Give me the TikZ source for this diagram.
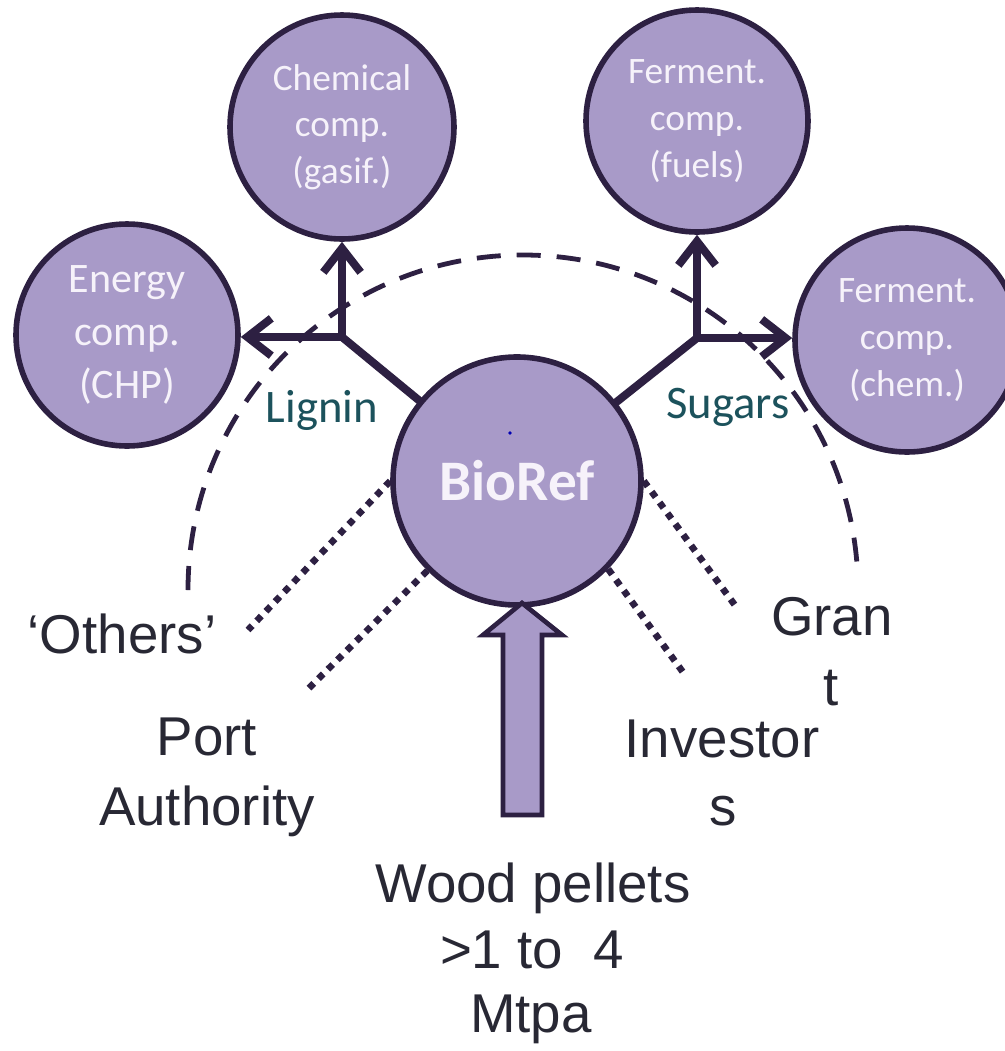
\documentclass[tikz,border=0pt]{standalone}
\usepackage{fontspec}
\setmainfont{Liberation Sans}
\newfontfamily\calfont{Carlito}
\usetikzlibrary{arrows.meta}
\definecolor{circfill}{RGB}{168,154,200}
\definecolor{circline}{RGB}{45,32,66}
\definecolor{txtdark}{RGB}{40,40,52}
\definecolor{txtlight}{RGB}{246,242,250}
\definecolor{lbltxt}{RGB}{28,82,92}
\begin{document}
\begin{tikzpicture}[x=0.75pt,y=-0.75pt,
  comp/.style={circle, draw=circline, fill=circfill, line width=4.2pt, inner sep=0pt, text=txtlight, align=center},
  flow/.style={draw=circline, line width=6pt, line cap=round, -{Straight Barb[length=18pt,width=28pt]}},
  branch/.style={draw=circline, line width=6pt, line cap=round},
  dotline/.style={draw=circline, line width=5pt, dash pattern=on 5pt off 5pt},
  bound/.style={draw=circline, line width=3.6pt, dash pattern=on 18pt off 12pt},
  lbl/.style={text=txtdark, font=\fontsize{41}{49}\selectfont, anchor=base, inner sep=0pt},
  stream/.style={text=lbltxt, font=\calfont\fontsize{35}{40}\selectfont, anchor=base, inner sep=0pt}]
\useasboundingbox (0,0) rectangle (1005,1051);
\clip (0,0) rectangle (1005,1051);

% component circles
\node[comp, minimum size=168pt, font=\calfont\fontsize{28}{35}\selectfont] (gasif) at (342,127) {Chemical\\comp.\\(gasif.)};
\node[comp, minimum size=166.5pt, font=\calfont\fontsize{31.5}{40}\selectfont] (energy) at (127,335) {Energy\\comp.\\(CHP)};
\node[comp, minimum size=166.5pt, font=\calfont\fontsize{28}{35}\selectfont] (fuels) at (697,121) {Ferment.\\comp.\\(fuels)};
\node[comp, minimum size=168pt, font=\calfont\fontsize{28}{35}\selectfont] (chemf) at (907,340) {Ferment.\\comp.\\(chem.)};
\node[comp, minimum size=186pt, font=\calfont\bfseries\fontsize{43}{50}\selectfont] (bio) at (517,481) {BioRef};
\fill[blue!70!black] (510,433) circle[radius=1.8];

% feed arrow
\draw[draw=circline, fill=circfill, line width=3.5pt] (522,603) -- (562,635) -- (542,635) -- (542,815) -- (503,815) -- (503,635) -- (483,635) -- cycle;

% branches
\coordinate (jl) at (342,337);
\coordinate (js) at (697,338);
\draw[branch] (bio) -- (jl);
\draw[branch] (bio) -- (js);
\draw[flow] (jl) -- (jl |- gasif.south);
\draw[flow] (jl) -- (jl -| energy.east);
\draw[flow] (js) -- (js |- fuels.south);
\draw[flow] (js) -- (js -| chemf.west);

% stakeholder links
\coordinate (oth) at (248,630);
\coordinate (prt) at (305,692);
\coordinate (inv) at (685,675);
\coordinate (grt) at (737,608);
\draw[dotline] (bio.180) -- (oth);
\draw[dotline] (bio.225) -- (prt);
\draw[dotline] (bio.316) -- (inv);
\draw[dotline] (bio.0) -- (grt);

% boundary
\draw[bound] (188,590) arc[start angle=180, end angle=357, radius=335];

% labels
\node[stream] (lig) at (322,422) {Lignin};
\node[stream] (sug) at (728,418) {Sugars};
\node[lbl] (others) at (122,653) {‘Others’};
\node[lbl] (port1) at (207,755) {Port};
\node[lbl] (port2) at (207,825) {Authority};
\node[lbl] (wood1) at (533,902) {Wood pellets};
\node[lbl] (wood2) at (532,968) {>1 to\ \ 4};
\node[lbl] (wood3) at (531,1032) {Mtpa};
\node[lbl] (inv1) at (722,757) {Investor};
\node[lbl] (inv2) at (723,825) {s};
\node[lbl] (gr1) at (832,635) {Gran};
\node[lbl] (gr2) at (831,705) {t};
\end{tikzpicture}
\end{document}
